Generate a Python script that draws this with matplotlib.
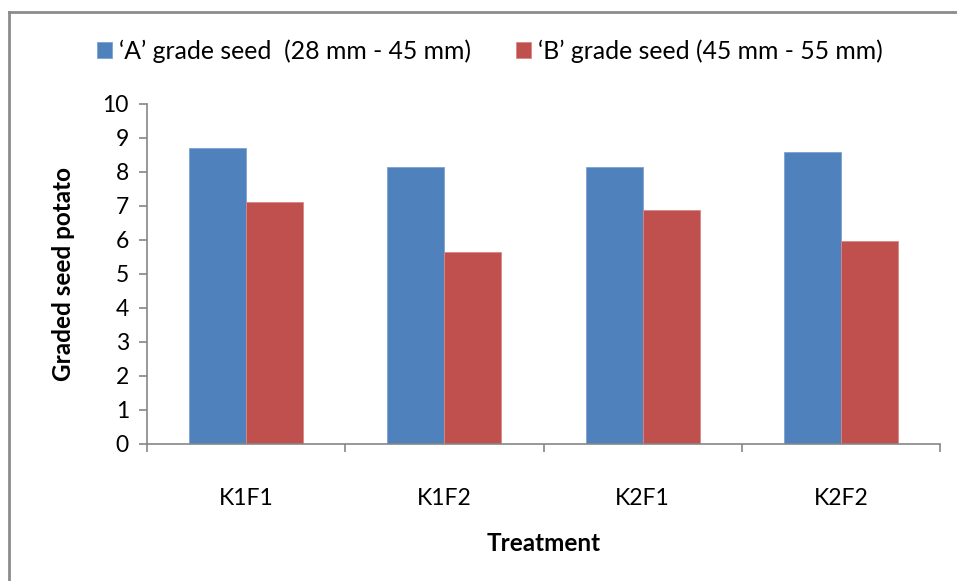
import matplotlib
matplotlib.use("Agg")
import matplotlib.pyplot as plt
import numpy as np
from matplotlib.lines import Line2D

treatments = ["K1F1", "K1F2", "K2F1", "K2F2"]
grade_a = [8.70, 8.14, 8.16, 8.58]
grade_b = [7.12, 5.65, 6.88, 5.97]
series_names = ["\u2018A\u2019 grade seed  (28 mm - 45 mm)",
                "\u2018B\u2019 grade seed (45 mm - 55 mm)"]
y_ticks = list(range(0, 11))

plt.rcParams["font.family"] = ["Lato", "DejaVu Sans"]

W, H = 957, 581
fig = plt.figure(figsize=(W / 100, H / 100), dpi=100)
ax = fig.add_axes([147 / W, 1 - 444 / H, (940 - 147) / W, (444 - 104) / H])

x = np.arange(len(treatments))
bw = 0.287
blue = "#4F81BD"
red = "#C0504D"
b1 = ax.bar(x - bw / 2, grade_a, bw, color=blue, edgecolor="#7EA3D0", linewidth=0.6,
            label=series_names[0])
b2 = ax.bar(x + bw / 2, grade_b, bw, color=red, edgecolor="#D98986", linewidth=0.6,
            label=series_names[1])

ax.set_xlim(-0.5, len(treatments) - 0.5)
ax.set_ylim(0, 10)
ax.set_yticks(y_ticks)
ax.set_xticks(x)
ax.set_xticklabels(treatments)
ax.set_xticks(np.arange(-0.5, len(treatments)), minor=True)

axis_grey = "#868686"
for s in ("top", "right"):
    ax.spines[s].set_visible(False)
for s in ("left", "bottom"):
    ax.spines[s].set_color(axis_grey)
    ax.spines[s].set_linewidth(1.2)

ax.tick_params(axis="y", direction="out", length=6, width=1.2, color=axis_grey,
               labelsize=16.5, pad=7, labelcolor="black")
ax.tick_params(axis="x", which="major", length=0, labelsize=16.5, pad=32)
ax.tick_params(axis="x", which="minor", direction="out", length=6, width=1.2,
               color=axis_grey)

ax.set_ylabel("Graded seed potato", fontsize=17.5, fontweight="bold", labelpad=20)
ax.set_xlabel("Treatment", fontsize=17.5, fontweight="bold", labelpad=16)

fig.legend(handles=[b1, b2], labels=series_names, loc="center",
           bbox_to_anchor=(490 / W, 1 - 51 / H), ncol=2, frameon=False,
           fontsize=17.8, handlelength=0.6, handleheight=0.6, handletextpad=0.3,
           columnspacing=1.8)

# outer chart frame
frame_kw = dict(color="#8C8C8C", linewidth=2, transform=fig.transFigure)
fig.add_artist(Line2D([9 / W, 9 / W], [0, 1 - 12 / H], **frame_kw))
fig.add_artist(Line2D([9 / W, 1], [1 - 12 / H, 1 - 12 / H], **frame_kw))

fig.savefig("out.png", dpi=100)
